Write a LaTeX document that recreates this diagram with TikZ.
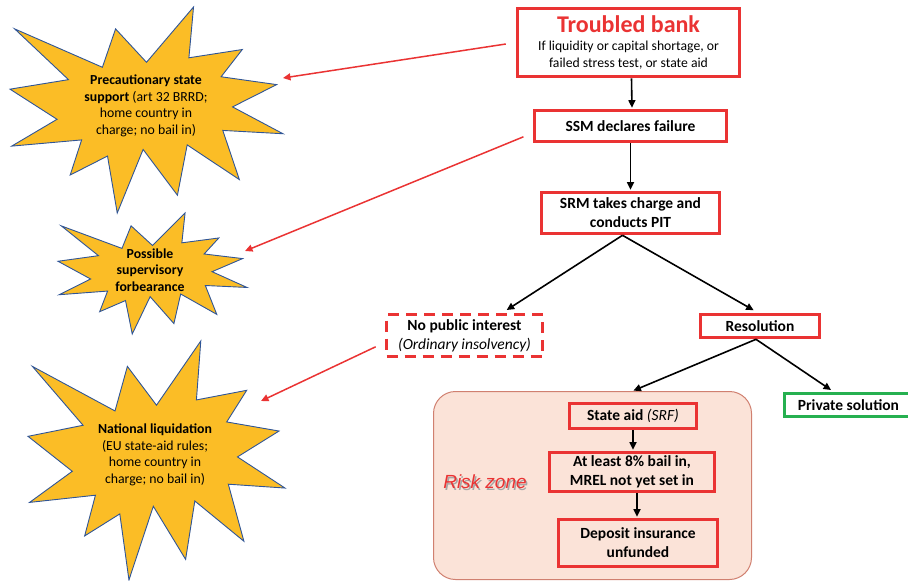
\documentclass[tikz,border=0pt]{standalone}
\usepackage{fontspec}
\setmainfont{Carlito}
\newfontfamily\arialfont{Liberation Sans}
\usetikzlibrary{arrows.meta}

\definecolor{boxred}{RGB}{234,51,51}
\definecolor{okgreen}{RGB}{38,176,80}
\definecolor{burstfill}{RGB}{251,189,38}
\definecolor{burstline}{RGB}{47,85,151}
\definecolor{zonefill}{RGB}{251,227,216}
\definecolor{zoneline}{RGB}{208,128,112}

% explosion outline: left, top, width, height
\newcommand{\blast}[4]{%
  \draw[blast, shift={(#1,#2)}, xscale=#3/216, yscale=#4/216]
    (108,58) -- (145.22,0) -- (141.55,53.25) -- (183.80,44.57) -- (167.02,73.15)
    -- (210.97,81.37) -- (176.07,104.75) -- (216,132.90) -- (168.37,129.42)
    -- (181.45,180.95) -- (140.20,144.57) -- (132.47,197.37) -- (105.32,149.35)
    -- (84.85,216) -- (77.15,156.27) -- (47.62,176.17) -- (56.67,139.37)
    -- (1.35,145.87) -- (37.22,117.75) -- (0,86.15) -- (46.27,76.17)
    -- (3.70,22.95) -- (73.12,63.20) -- (83.52,22.95) -- cycle;}

\begin{document}
\begin{tikzpicture}[
            x = 1pt, y = -1pt, % pixel grid
            > = {Triangle[length=7.5pt, width=7pt]}, % arrow head style
            stepbox/.style = {draw=boxred, line width=3.6pt, align=center, inner sep=1pt,
                              font=\fontsize{15.5}{19}\selectfont\bfseries},
            blast/.style = {fill=burstfill, draw=burstline, line width=0.9pt, line join=miter},
            bursttext/.style = {align=center, font=\fontsize{13.8}{16.6}\selectfont},
            flow/.style = {->, line width=1.6pt, shorten >=1pt},
            redflow/.style = {->, draw=boxred, line width=1.5pt, shorten <=10pt}
        ]
	\useasboundingbox (0,0) rectangle (908,581);

	% risk zone behind the lower boxes
	\node[draw=zoneline, fill=zonefill, line width=1pt, rounded corners=22pt,
	      minimum width=318pt, minimum height=188pt] (zone) at (592.5,485.5) {};
	\node[text=black!35, font=\arialfont\fontsize{19}{22}\selectfont\itshape] (zoneshadow) at (486.5,483.5) {Risk zone};
	\node[text=boxred, font=\arialfont\fontsize{19}{22}\selectfont\itshape] (zonelabel) at (485,482) {Risk zone};

	% the three bursts
	\blast{10}{7}{273}{206}
	\blast{58}{213}{189}{121}
	\blast{28}{341}{257}{239}

	\node[bursttext] (precaution) at (146,106) {\textbf{Precautionary state}\\\textbf{support} (art 32 BRRD;\\home country in\\charge; no bail in)};
	\node[bursttext, font=\fontsize{13.8}{16.6}\selectfont\bfseries] (forbear) at (150,270) {Possible\\supervisory\\forbearance};
	\node[bursttext] (liquid) at (155,455) {\textbf{National liquidation}\\(EU state-aid rules;\\home country in\\charge; no bail in)};

	% flow chart
	\node[stepbox, minimum width=222pt, minimum height=68pt, font=\fontsize{13.7}{17}\selectfont] (bank) at (628.5,42.5)
	     {{\fontsize{24}{24}\selectfont\bfseries\color{boxred}Troubled bank}\\[1pt]If liquidity or capital shortage, or\\failed stress test, or state aid};
	\node[stepbox, minimum width=192pt, minimum height=31pt] (ssm) at (630.5,126) {SSM declares failure};
	\node[stepbox, minimum width=178pt, minimum height=41pt] (srm) at (630.5,213) {SRM takes charge and\\conducts PIT};
	\node[stepbox, dash pattern=on 11pt off 7pt, minimum width=156pt, minimum height=42pt] (nopublic) at (464.5,335.5)
	     {No public interest\\\mdseries\itshape (Ordinary insolvency)};
	\node[stepbox, minimum width=119pt, minimum height=23pt] (resol) at (760,326) {Resolution};
	\node[stepbox, draw=okgreen, minimum width=128pt, minimum height=23pt] (private) at (848.5,405) {Private solution};
	\node[stepbox, minimum width=127pt, minimum height=25pt] (stateaid) at (633,416) {State aid \mdseries\itshape(SRF)};
	\node[stepbox, minimum width=165pt, minimum height=39pt] (bailin) at (632,472) {At least 8\% bail in,\\MREL not yet set in};
	\node[stepbox, minimum width=159pt, minimum height=47pt] (deposit) at (638,543) {Deposit insurance\\unfunded};

	\draw[flow] ([xshift=3pt]bank.south) -- ([xshift=1.5pt]ssm.north);
	\draw[flow] (ssm.south) -- (srm.north);
	\draw[flow, shorten >=5pt] ([xshift=-8pt]srm.south) -- ([xshift=38pt]nopublic.north);
	\draw[flow, shorten >=5pt] ([xshift=-8pt]srm.south) -- ([xshift=-2pt]resol.north);
	\draw[flow] ([xshift=-4pt]resol.south) -- ([xshift=40pt]zone.north);
	\draw[flow, shorten >=3pt] ([xshift=-4pt]resol.south) -- ([xshift=-15pt]private.north);
	\draw[flow] (stateaid.south) -- ([xshift=1pt]bailin.north);
	\draw[flow] ([xshift=5pt]bailin.south) -- ([xshift=-1pt]deposit.north);

	% pointers to the bursts
	\coordinate (tip1) at (283,78);
	\coordinate (tip2) at (245,251);
	\coordinate (tip3) at (261,401);
	\draw[redflow] (bank.west) -- (tip1);
	\draw[redflow] ([yshift=-7pt]ssm.west) -- (tip2);
	\draw[redflow] ([yshift=-7pt]nopublic.west) -- (tip3);

\end{tikzpicture}
\end{document}
